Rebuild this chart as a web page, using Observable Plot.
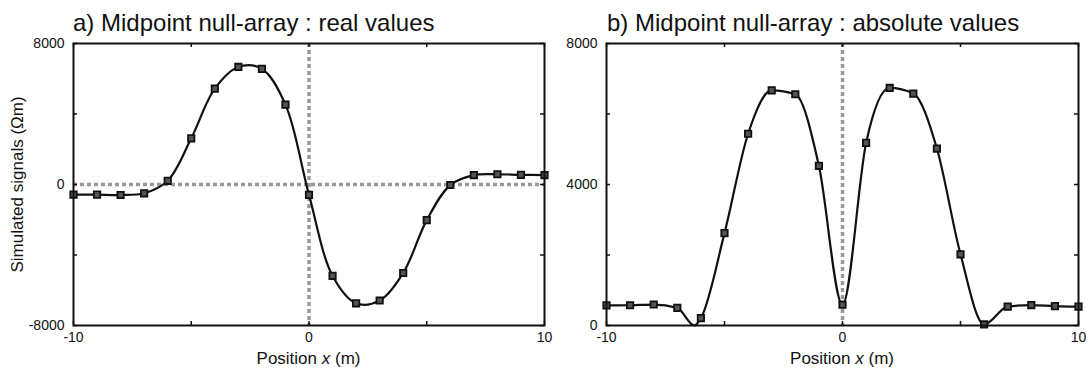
<!DOCTYPE html>
<html><head><meta charset="utf-8">
<script src="https://cdn.jsdelivr.net/npm/d3@7"></script>
<script src="https://cdn.jsdelivr.net/npm/@observablehq/plot@0.6"></script>
<style>
body{margin:0;background:#fff;font-family:Arial,"Liberation Sans",sans-serif;}
#wrap{position:relative;width:1087px;height:370px;overflow:hidden;background:#fff;}
.title{position:absolute;font-size:24px;color:#111;white-space:nowrap;line-height:1;}
.xlab{position:absolute;font-size:17px;color:#111;white-space:nowrap;line-height:1;transform:translateX(-50%);}
.panel{position:absolute;top:0;}
</style></head><body>
<div id="wrap"></div>
<script>
// Sample positions (m)
const positions = [-10,-9,-8,-7,-6,-5,-4,-3,-2,-1,0,1,2,3,4,5,6,7,8,9,10];
// Panel a: real values (Ωm)
const realValues = [-570,-575,-595,-500,210,2620,5440,6670,6560,4530,-590,-5180,-6740,-6580,-5020,-2020,-30,535,580,550,535];
// Panel b: absolute values (Ωm)
const absValues = [570,575,595,500,210,2620,5440,6670,6560,4530,590,5180,6740,6580,5020,2020,30,535,580,550,535];
// Where the absolute-value curve touches zero between samples
const absZeroX = [-6.28];
const absZeroY = [0];

const xTicks = [-10,-5,0,5,10];
const xLabels = [-10,0,10];
const yTicksA = [-8000,-4000,0,4000,8000];
const yLabelsA = [-8000,0,8000];
const yTicksB = [0,2000,4000,6000,8000];
const yLabelsB = [0,4000,8000];

const titleA = "a) Midpoint null-array : real values";
const titleB = "b) Midpoint null-array : absolute values";
const yLabel = "Simulated signals (Ωm)";

const wrap = document.getElementById("wrap");
const H = 370, MT = 43, MB = 45;
const innerH = H - MT - MB;
const tickLen = 4;

function panel({left, width, ml, mr, values, curveData, curve, yDomain, yTicks, yLabels, hRule, showYLabel}) {
  const pts = positions.map((x, i) => ({x, y: values[i]}));
  const dash = {stroke: "#999", strokeWidth: 3.5, strokeDasharray: "4,3"};
  const marks = [Plot.ruleX([0], dash)];
  if (hRule) marks.push(Plot.ruleY([0], dash));
  marks.push(
    Plot.line(curveData, {x: "x", y: "y", curve, stroke: "#111", strokeWidth: 2.2}),
    Plot.dot(pts, {x: "x", y: "y", symbol: "square", r: 3.6, fill: "#555", stroke: "#111", strokeWidth: 1.8}),
    // inward ticks
    Plot.ruleX(xTicks, {stroke: "#111", strokeWidth: 1.5, insetBottom: innerH - tickLen}),
    Plot.ruleX(xTicks, {stroke: "#111", strokeWidth: 1.5, insetTop: innerH - tickLen}),
    Plot.ruleY(yTicks, {stroke: "#111", strokeWidth: 1.5, insetRight: (width - ml - mr) - tickLen}),
    Plot.ruleY(yTicks, {stroke: "#111", strokeWidth: 1.5, insetLeft: (width - ml - mr) - tickLen}),
    Plot.frame({stroke: "#111", strokeWidth: 2}),
    Plot.axisX({ticks: xLabels, tickSize: 0, tickPadding: 7, tickFormat: d => String(d), fontSize: 14, label: null}),
    Plot.axisY({ticks: yLabels, tickSize: 0, tickPadding: 9, tickFormat: d => String(d), fontSize: 14, label: null})
  );
  if (showYLabel) marks.push(Plot.text([yLabel], {frameAnchor: "left", textAnchor: "middle", rotate: -90, dx: -56, fontSize: 17, fill: "#111"}));
  const svg = Plot.plot({
    width, height: H,
    marginLeft: ml, marginRight: mr, marginTop: MT, marginBottom: MB,
    x: {domain: [-10, 10]},
    y: {domain: yDomain},
    style: {fontFamily: "Arial, 'Liberation Sans', sans-serif", color: "#111", background: "transparent", overflow: "visible"},
    marks
  });
  svg.classList.add("panel");
  svg.style.left = left + "px";
  wrap.appendChild(svg);
}

const curveA = positions.map((x, i) => ({x, y: realValues[i]}));
const curveB = positions.map((x, i) => ({x, y: absValues[i]}))
  .concat(absZeroX.map((x, i) => ({x, y: absZeroY[i]})))
  .sort((a, b) => a.x - b.x);

panel({left: 0, width: 560, ml: 73, mr: 16, values: realValues, curveData: curveA, curve: "catmull-rom",
  yDomain: [-8000, 8000], yTicks: yTicksA, yLabels: yLabelsA, hRule: true, showYLabel: true});
panel({left: 545, width: 542, ml: 61, mr: 9, values: absValues, curveData: curveB, curve: "monotone-x",
  yDomain: [0, 8000], yTicks: yTicksB, yLabels: yLabelsB, hRule: false, showYLabel: false});

function addDiv(cls, html, x, y) {
  const d = document.createElement("div");
  d.className = cls; d.innerHTML = html;
  d.style.left = x + "px"; d.style.top = y + "px";
  wrap.appendChild(d);
}
addDiv("title", titleA, 73, 11);
addDiv("title", titleB, 607, 11);
addDiv("xlab", "Position <i>x</i> (m)", 308.5, 350);
addDiv("xlab", "Position <i>x</i> (m)", 842, 350);
</script>
</body></html>
